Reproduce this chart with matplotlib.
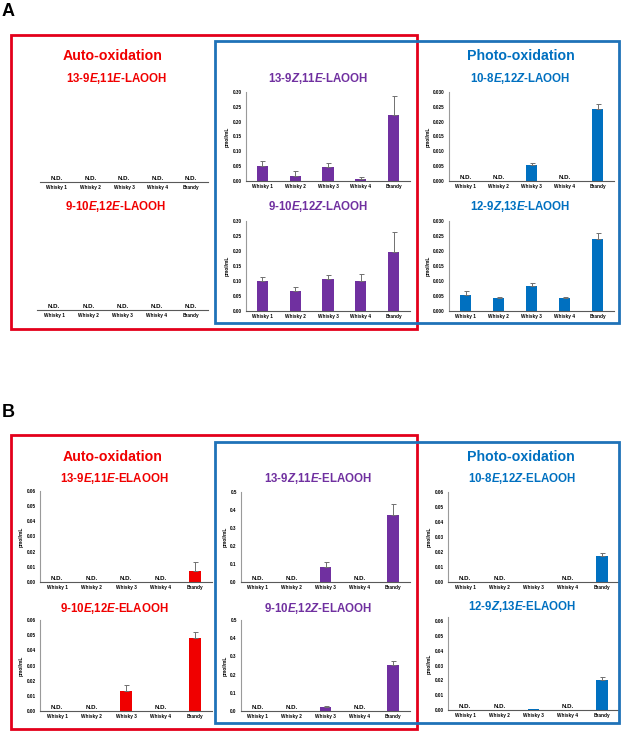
import numpy as np
import matplotlib
matplotlib.use("Agg")
import matplotlib.pyplot as plt
from matplotlib.patches import Rectangle

plt.rcParams['font.family'] = ['Liberation Sans', 'DejaVu Sans']
plt.rcParams['font.weight'] = 'bold'
plt.rcParams['mathtext.fontset'] = 'custom'
plt.rcParams['mathtext.it'] = 'Liberation Sans:style=italic:weight=bold'
plt.rcParams['mathtext.rm'] = 'Liberation Sans:weight=bold'
plt.rcParams['mathtext.bf'] = 'Liberation Sans:weight=bold'

categories = ["Whisky 1", "Whisky 2", "Whisky 3", "Whisky 4", "Brandy"]
ND = np.nan

# Panel A (LAOOH), pmol/mL; nan = N.D.
a_13_9E11E = [ND, ND, ND, ND, ND]
a_9_10E12E = [ND, ND, ND, ND, ND]
a_13_9Z11E = [0.052, 0.017, 0.047, 0.006, 0.222]
a_13_9Z11E_err = [0.014, 0.017, 0.013, 0.007, 0.066]
a_9_10E12Z = [0.100, 0.066, 0.108, 0.099, 0.196]
a_9_10E12Z_err = [0.012, 0.015, 0.012, 0.026, 0.068]
a_10_8E12Z = [ND, ND, 0.0053, ND, 0.0242]
a_10_8E12Z_err = [0, 0, 0.0008, 0, 0.0017]
a_12_9Z13E = [0.0053, 0.0042, 0.0083, 0.0044, 0.0239]
a_12_9Z13E_err = [0.0013, 0.0004, 0.0010, 0.0003, 0.0020]

# Panel B (ELAOOH)
b_13_9E11E = [ND, ND, ND, ND, 0.0070]
b_13_9E11E_err = [0, 0, 0, 0, 0.0064]
b_9_10E12E = [ND, ND, 0.0134, ND, 0.0481]
b_9_10E12E_err = [0, 0, 0.0035, 0, 0.0037]
b_13_9Z11E = [ND, ND, 0.081, ND, 0.370]
b_13_9Z11E_err = [0, 0, 0.029, 0, 0.061]
b_9_10E12Z = [ND, ND, 0.022, ND, 0.251]
b_9_10E12Z_err = [0, 0, 0.007, 0, 0.022]
b_10_8E12Z = [ND, ND, 0.0003, ND, 0.0174]
b_10_8E12Z_err = [0, 0, 0, 0, 0.0018]
b_12_9Z13E = [ND, ND, 0.0006, ND, 0.0204]
b_12_9Z13E_err = [0, 0, 0, 0, 0.0018]

RED = '#f00000'
PURPLE = '#7030a0'
BLUE = '#0070c0'
RED_BOX = '#e3001b'
BLUE_BOX = '#1f72b8'

W, H = 624, 731
fig = plt.figure(figsize=(W / 100, H / 100), dpi=100)


def add_ax(x0, x1, ytop, ybot):
    return fig.add_axes([x0 / W, 1 - ybot / H, (x1 - x0) / W, (ybot - ytop) / H])


def draw(ax, vals, errs, color, ymax, step, fmt, show_y=True, ylim_top=None):
    x = np.arange(len(categories))
    v = np.array(vals, dtype=float)
    e = np.zeros_like(v) if errs is None else np.array(errs, dtype=float)
    top = ymax if ylim_top is None else ylim_top
    ax.set_xlim(-0.5, len(categories) - 0.5)
    ax.set_ylim(0, top)
    mask = ~np.isnan(v)
    ax.bar(x[mask], v[mask], width=0.34, color=color, zorder=2)
    emask = mask & (e > 0)
    if emask.any():
        ax.errorbar(x[emask], v[emask], yerr=[np.zeros(emask.sum()), e[emask]],
                    fmt='none', ecolor='#707070', elinewidth=0.7, capsize=1.8,
                    capthick=0.7, zorder=3)
    for xi, vi in zip(x, v):
        if np.isnan(vi):
            ax.text(xi, top * 0.01, "N.D.", ha='center', va='bottom',
                    fontsize=4.4, fontweight='bold', color='black')
    ax.set_xticks(x)
    ax.set_xticklabels(categories, fontsize=3.4, fontweight='bold')
    ax.tick_params(axis='x', length=0, pad=2.5)
    for s in ['top', 'right']:
        ax.spines[s].set_visible(False)
    ax.spines['bottom'].set_color('#595959')
    ax.spines['bottom'].set_linewidth(0.8)
    ax.patch.set_alpha(0)
    if show_y:
        ticks = np.arange(0, ymax + step / 2, step)
        ax.set_yticks(ticks)
        ax.set_yticklabels([fmt.format(t) for t in ticks], fontsize=3.3, fontweight='bold')
        ax.tick_params(axis='y', length=0, pad=3)
        ax.spines['left'].set_color('#9a9a9a')
        ax.spines['left'].set_linewidth(0.8)
        ax.set_ylabel("pmol/mL", fontsize=3.4, fontweight='bold', labelpad=2)
    else:
        ax.spines['left'].set_visible(False)
        ax.set_yticks([])


# Panel A
ax = add_ax(40, 208, 92, 182)
draw(ax, a_13_9E11E, None, RED, 1, 1, "{:.2f}", show_y=False)
ax = add_ax(37, 208, 221, 310)
draw(ax, a_9_10E12E, None, RED, 1, 1, "{:.2f}", show_y=False)
ax = add_ax(246, 410, 92, 181)
draw(ax, a_13_9Z11E, a_13_9Z11E_err, PURPLE, 0.30, 0.05, "{:.2f}")
ax = add_ax(246, 410, 221, 311)
draw(ax, a_9_10E12Z, a_9_10E12Z_err, PURPLE, 0.30, 0.05, "{:.2f}")
ax = add_ax(449, 614, 92, 181)
draw(ax, a_10_8E12Z, a_10_8E12Z_err, BLUE, 0.030, 0.005, "{:.3f}")
ax = add_ax(449, 614, 221, 311)
draw(ax, a_12_9Z13E, a_12_9Z13E_err, BLUE, 0.030, 0.005, "{:.3f}")

# Panel B
ax = add_ax(40, 212, 491, 582)
draw(ax, b_13_9E11E, b_13_9E11E_err, RED, 0.06, 0.01, "{:.2f}")
ax = add_ax(40, 212, 620, 711)
draw(ax, b_9_10E12E, b_9_10E12E_err, RED, 0.06, 0.01, "{:.2f}")
ax = add_ax(241, 410, 492, 582)
draw(ax, b_13_9Z11E, b_13_9Z11E_err, PURPLE, 0.5, 0.1, "{:.1f}")
ax = add_ax(241, 410, 620, 711)
draw(ax, b_9_10E12Z, b_9_10E12Z_err, PURPLE, 0.5, 0.1, "{:.1f}")
ax = add_ax(448, 619, 492, 582)
draw(ax, b_10_8E12Z, b_10_8E12Z_err, BLUE, 0.06, 0.01, "{:.2f}")
ax = add_ax(448, 619, 617, 710)
draw(ax, b_12_9Z13E, b_12_9Z13E_err, BLUE, 0.06, 0.01, "{:.2f}", ylim_top=0.063)


def ftext(x, y, s, size, color, **kw):
    fig.text(x / W, 1 - y / H, s, fontsize=size, color=color, fontweight='bold',
             ha=kw.pop('ha', 'center'), va=kw.pop('va', 'center'), **kw)


def box(x0, y0, x1, y1, color):
    fig.add_artist(Rectangle((x0 / W, 1 - y1 / H), (x1 - x0) / W, (y1 - y0) / H,
                             transform=fig.transFigure, fill=False,
                             edgecolor=color, linewidth=2.0))


# Frames
box(11, 35, 417, 329, RED_BOX)
box(215, 41, 619, 323, BLUE_BOX)
box(11, 435, 417, 729, RED_BOX)
box(215, 442, 619, 723, BLUE_BOX)

# Labels
ftext(2, 11, "A", 13, 'black', ha='left')
ftext(2, 412, "B", 13, 'black', ha='left')

ftext(113, 56, "Auto-oxidation", 10.2, RED)
ftext(521, 56, "Photo-oxidation", 10.2, BLUE)
ftext(113, 457, "Auto-oxidation", 10.2, RED)
ftext(521, 457, "Photo-oxidation", 10.2, BLUE)

TS = 8.3
ftext(116, 79, r"13-9$\mathit{E}$,11$\mathit{E}$-LAOOH", TS, RED)
ftext(115, 207, r"9-10$\mathit{E}$,12$\mathit{E}$-LAOOH", TS, RED)
ftext(318, 78, r"13-9$\mathit{Z}$,11$\mathit{E}$-LAOOH", TS, PURPLE)
ftext(318, 207, r"9-10$\mathit{E}$,12$\mathit{Z}$-LAOOH", TS, PURPLE)
ftext(520, 78, r"10-8$\mathit{E}$,12$\mathit{Z}$-LAOOH", TS, BLUE)
ftext(520, 207, r"12-9$\mathit{Z}$,13$\mathit{E}$-LAOOH", TS, BLUE)

ftext(114, 479, r"13-9$\mathit{E}$,11$\mathit{E}$-ELAOOH", TS, RED)
ftext(114, 608, r"9-10$\mathit{E}$,12$\mathit{E}$-ELAOOH", TS, RED)
ftext(318, 479, r"13-9$\mathit{Z}$,11$\mathit{E}$-ELAOOH", TS, PURPLE)
ftext(318, 608, r"9-10$\mathit{E}$,12$\mathit{Z}$-ELAOOH", TS, PURPLE)
ftext(522, 479, r"10-8$\mathit{E}$,12$\mathit{Z}$-ELAOOH", TS, BLUE)
ftext(522, 607, r"12-9$\mathit{Z}$,13$\mathit{E}$-ELAOOH", TS, BLUE)

fig.savefig("out.png", dpi=100)
